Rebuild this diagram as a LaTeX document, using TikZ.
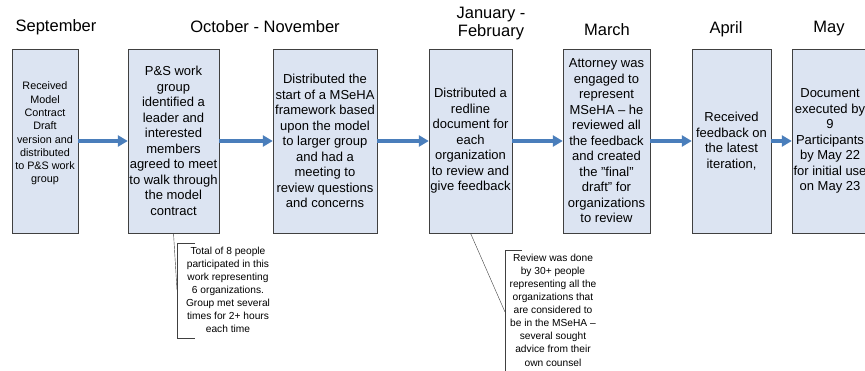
\documentclass[tikz,border=0pt]{standalone}
\usepackage{fontspec}
\setmainfont{Liberation Sans}
\usetikzlibrary{arrows.meta}
\definecolor{fond}{RGB}{220,228,242}
\definecolor{bord}{RGB}{64,64,64}
\definecolor{fleche}{RGB}{74,126,187}
\tikzset{
  etape/.style={draw=bord, fill=fond, minimum height=184, inner sep=1pt, align=center,
    font=\fontsize{13}{15.5}\selectfont},
  mois/.style={align=center, font=\fontsize{16.5}{18}\selectfont},
  note/.style={align=center, font=\fontsize{10.2}{13.1}\selectfont},
  fleche/.style={draw=fleche, line width=3.5pt, -{Triangle[length=10pt, width=11pt]}}
}
\begin{document}
\begin{tikzpicture}[x=1pt, y=-1pt]
\useasboundingbox (0,0) rectangle (865,371);
% les mois
\node[mois] (m1) at (56,27) {September};
\node[mois] (m2) at (265,27) {October - November};
\node[mois] (m3) at (491,24) {January -\\February};
\node[mois] (m4) at (607,30) {March};
\node[mois] (m5) at (726,29) {April};
\node[mois] (m6) at (829,29) {May};
% les etapes
\node[etape, minimum width=66, text depth=17pt, font=\fontsize{10.8}{13.3}\selectfont] (b1) at (45,141)
  {Received\\Model\\Contract\\Draft\\version and\\distributed\\to P\&S work\\group};
\node[etape, minimum width=91] (b2) at (173.5,141)
  {P\&S work\\group\\identified a\\leader and\\interested\\members\\agreed to meet\\to walk through\\the model\\contract};
\node[etape, minimum width=104] (b3) at (325,141)
  {Distributed the\\start of a MSeHA\\framework based\\upon the model\\to larger group\\and had a\\meeting to\\review questions\\and concerns};
\node[etape, minimum width=83] (b4) at (470.5,141)
  {Distributed a\\redline\\document for\\each\\organization\\to review and\\give feedback};
\node[etape, minimum width=87] (b5) at (606.5,141)
  {Attorney was\\engaged to\\represent\\MSeHA -- he\\reviewed all\\the feedback\\and created\\the "final"\\draft" for\\organizations\\to review};
\node[etape, minimum width=79] (b6) at (731.5,141)
  {Received\\feedback on\\the latest\\iteration,};
\node[etape, minimum width=76] (b7) at (830,141)
  {Document\\executed by\\9\\Participants\\by May 22\\for initial use\\on May 23};
\foreach \a/\b in {b1/b2, b2/b3, b3/b4, b4/b5, b5/b6, b6/b7}
  \draw[fleche] (\a) -- (\b);
% les remarques
\node[note] (n1) at (228,290)
  {Total of 8 people\\participated in this\\work representing\\6 organizations.\\Group met several\\times for 2+ hours\\each time};
\coordinate (c1) at (177,290);
\draw[bord] (195,243) -- (177,243) -- (177,338) -- (195,338);
\draw[bord] (b2.south) -- (c1);
\node[note] (n2) at (553,310)
  {Review was done\\by 30+ people\\representing all the\\organizations that\\are considered to\\be in the MSeHA --\\several sought\\advice from their\\own counsel};
\coordinate (c2) at (505,312);
\draw[bord] (522,250) -- (505,250) -- (505,375);
\draw[bord] (b4.south) -- (c2);
\end{tikzpicture}
\end{document}
